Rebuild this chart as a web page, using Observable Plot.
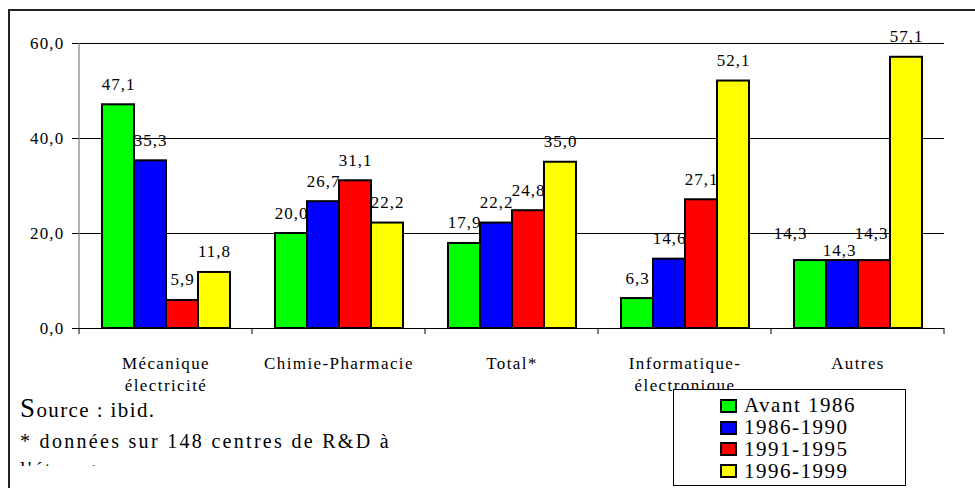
<!DOCTYPE html>
<html>
<head>
<meta charset="utf-8">
<script src="https://cdn.jsdelivr.net/npm/d3@7"></script>
<script src="https://cdn.jsdelivr.net/npm/@observablehq/plot@0.6"></script>
<style>
  html, body { margin: 0; padding: 0; background: white; }
  #wrap { position: relative; width: 975px; height: 488px; overflow: hidden; background: white; font-family: "Liberation Serif", "Times New Roman", serif; color: black; }
  #wrap svg text { letter-spacing: 1px; }
  #wrap svg g[aria-label="fx-axis tick label"] text { letter-spacing: 1.4px; }
  #wrap svg g[aria-label="y-axis tick label"] text { letter-spacing: 1.2px; }
  #border { position: absolute; left: 8px; top: 9px; width: 1200px; height: 800px; border-left: 2px solid #222; border-top: 2px solid #222; pointer-events: none; }
  .note { position: absolute; left: 20px; line-height: 1; white-space: nowrap; }
  #legend { position: absolute; left: 673px; top: 389px; width: 231px; height: 95px; border: 1px solid black; background: white; }
  .sw { position: absolute; width: 13px; height: 10px; border: 2px solid black; }
  .lt { position: absolute; font-size: 21px; line-height: 1; letter-spacing: 1.5px; white-space: nowrap; }
</style>
</head>
<body>
<div id="wrap"></div>
<script>
const categories = ["Mécanique\nélectricité", "Chimie-Pharmacie", "Total*", "Informatique-\nélectronique", "Autres"];
const series = ["Avant 1986", "1986-1990", "1991-1995", "1996-1999"];
const avant1986 = [47.1, 20.0, 17.9, 6.3, 14.3];
const p1986_1990 = [35.3, 26.7, 22.2, 14.6, 14.3];
const p1991_1995 = [5.9, 31.1, 24.8, 27.1, 14.3];
const p1996_1999 = [11.8, 22.2, 35.0, 52.1, 57.1];
const colors = ["#00ff00", "#0000ff", "#ff0000", "#ffff00"];
const yTicks = [0, 20, 40, 60];

const seriesValues = [avant1986, p1986_1990, p1991_1995, p1996_1999];
const data = categories.flatMap((c, i) => series.map((s, j) => ({category: c, series: s, value: seriesValues[j][i]})));
const fmt = v => v.toFixed(1).replace(".", ",");

// label nudges (as placed in the original chart), keyed by category|series
const nudges = {
  "Autres|Avant 1986": [-20, -7],
  "Autres|1986-1990": [-3, 10],
  "Autres|1991-1995": [-3, -7]
};
const key = d => d.category + "|" + d.series;
const plain = data.filter(d => !(key(d) in nudges));
const chartFont = "Liberation Serif, Times New Roman, serif";
const labelMarks = [
  Plot.text(plain, {fx: "category", x: "series", y: "value", text: d => fmt(d.value), lineAnchor: "bottom", dy: -15, fontSize: 17, fill: "black"}),
  ...Object.entries(nudges).map(([k, [dx, dy]]) =>
    Plot.text(data.filter(d => key(d) === k), {fx: "category", x: "series", y: "value", text: d => fmt(d.value), lineAnchor: "bottom", dx, dy: -15 + dy, fontSize: 17, fill: "black"}))
];

const chart = Plot.plot({
  width: 975,
  height: 400,
  marginLeft: 79,
  marginRight: 31,
  marginTop: 43,
  marginBottom: 72,
  fx: {domain: categories, padding: 0, label: null},
  x: {domain: series, paddingInner: 0, paddingOuter: 0.7, axis: null},
  y: {domain: [0, 60], axis: null},
  color: {domain: series, range: colors},
  style: {fontFamily: chartFont, fontSize: "17px", color: "black", background: "transparent", overflow: "visible"},
  marks: [
    Plot.gridY(yTicks.slice(1), {stroke: "black", strokeOpacity: 1, strokeWidth: 1}),
    Plot.barY(data, {fx: "category", x: "series", y: "value", fill: "series", stroke: "black", strokeWidth: 2}),
    ...labelMarks,
    Plot.ruleY([0], {stroke: "black"}),
    Plot.axisY({ticks: yTicks, tickFormat: fmt, tickSize: 7, tickPadding: 8, fontSize: 17, label: null}),
    Plot.axisFx({anchor: "bottom", tickSize: 0, tickPadding: 25, lineHeight: 1.3, fontSize: 17, label: null})
  ]
});

const wrap = document.getElementById("wrap");
chart.style.position = "absolute";
chart.style.left = "0px";
chart.style.top = "0px";
wrap.appendChild(chart);

// axis line and band-boundary ticks from the library's scales
const fxs = chart.scale("fx");
const ys = chart.scale("y");
const fxBand = d3.scaleBand().domain(fxs.domain).range(fxs.range).padding(0);
const yLin = d3.scaleLinear().domain(ys.domain).range(ys.range);
const svg = d3.select(chart);
const g = svg.append("g");
g.append("line")
  .attr("x1", fxs.range[0]).attr("x2", fxs.range[0])
  .attr("y1", yLin(0)).attr("y2", yLin(60))
  .attr("stroke", "#808080").attr("stroke-width", 1.2);
const bounds = categories.map(c => fxBand(c)).concat([fxBand(categories[categories.length - 1]) + fxBand.bandwidth()]);
g.selectAll("line.tk").data(bounds).join("line")
  .attr("class", "tk")
  .attr("x1", d => d).attr("x2", d => d)
  .attr("y1", yLin(0)).attr("y2", yLin(0) + 6)
  .attr("stroke", "black");

// outer frame
const border = document.createElement("div");
border.id = "border";
wrap.appendChild(border);

// notes
const n1 = document.createElement("div");
n1.className = "note";
n1.style.top = "395px";
n1.style.fontSize = "21px";
n1.style.letterSpacing = "1.4px";
n1.innerHTML = '<span style="font-size:27px;line-height:1">S</span>ource : ibid.';
wrap.appendChild(n1);

const n2 = document.createElement("div");
n2.className = "note";
n2.style.top = "431px";
n2.style.fontSize = "20px";
n2.style.letterSpacing = "2.3px";
n2.textContent = "* données sur 148 centres de R&D à";
wrap.appendChild(n2);

const n3 = document.createElement("div");
n3.style.position = "absolute";
n3.style.left = "20px";
n3.style.top = "455px";
n3.style.height = "11px";
n3.style.width = "300px";
n3.style.overflow = "hidden";
const n3t = document.createElement("div");
n3t.className = "note";
n3t.style.left = "0px";
n3t.style.top = "4px";
n3t.style.fontSize = "20px";
n3t.style.letterSpacing = "2.3px";
n3t.textContent = "l'étranger";
n3.appendChild(n3t);
wrap.appendChild(n3);

// legend
const legend = document.createElement("div");
legend.id = "legend";
series.forEach((s, i) => {
  const baseline = 23 + i * 21.7;
  const sw = document.createElement("div");
  sw.className = "sw";
  sw.style.left = "46px";
  sw.style.top = (baseline - 14) + "px";
  sw.style.background = colors[i];
  legend.appendChild(sw);
  const t = document.createElement("div");
  t.className = "lt";
  t.style.left = "70px";
  t.style.top = (baseline - 17.6) + "px";
  t.textContent = s;
  legend.appendChild(t);
});
wrap.appendChild(legend);
</script>
</body>
</html>
